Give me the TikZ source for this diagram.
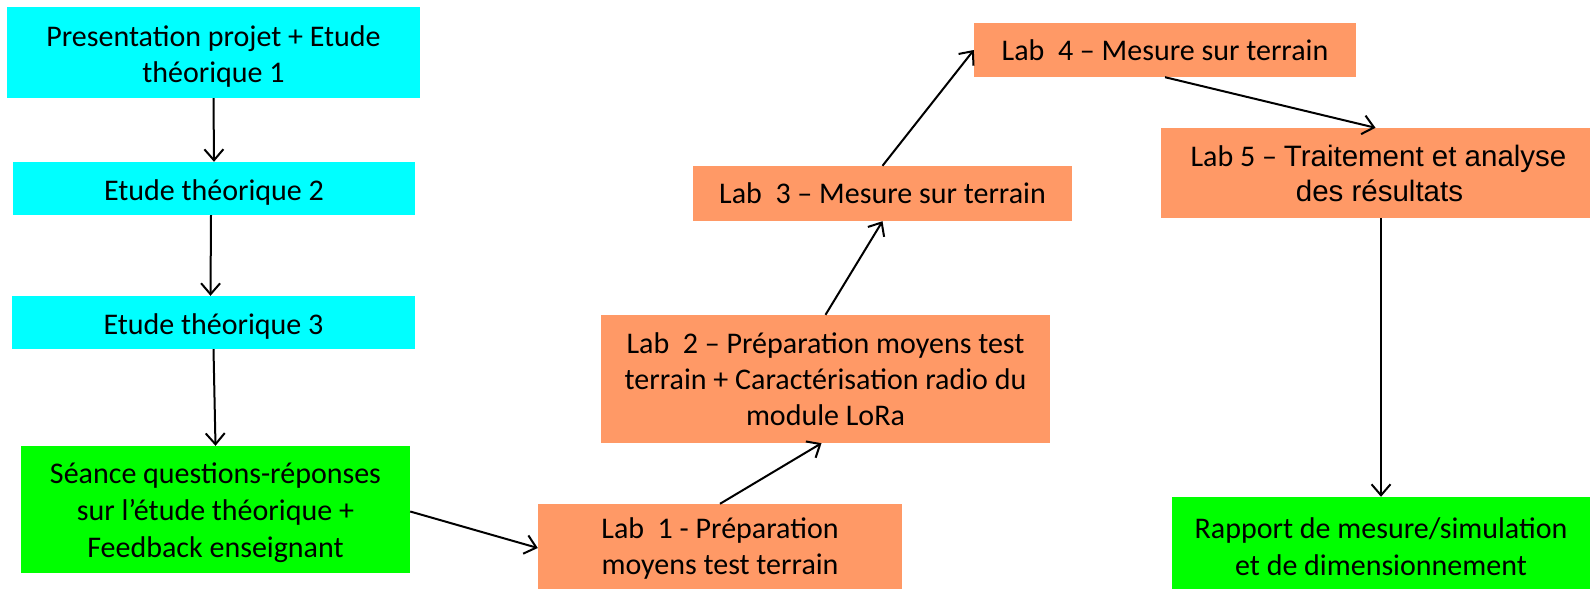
\documentclass[tikz,border=0pt]{standalone}
\usepackage{fontspec}
\setmainfont{Carlito}
\newfontfamily\arialf{Liberation Sans}
\usetikzlibrary{arrows.meta}
\definecolor{boxcyan}{HTML}{00FFFF}
\definecolor{boxgreen}{HTML}{00FF00}
\definecolor{boxorange}{HTML}{FF9966}
\newcommand{\tallstrut}[1]{\rule{0pt}{#1}}
\tikzset{
  box/.style={rectangle, inner sep=0pt, align=center, font=\fontsize{30}{36}\selectfont, text=black},
  cyanbox/.style={box, fill=boxcyan},
  greenbox/.style={box, fill=boxgreen, font=\fontsize{30}{37}\selectfont},
  orangebox/.style={box, fill=boxorange},
  conn/.style={draw=black, line width=2pt, -{Straight Barb[length=11pt,width=19pt,line width=2pt]}},
}
\begin{document}
\begin{tikzpicture}[x=1pt,y=-1pt]
\useasboundingbox (0,0) rectangle (1593,589);
\node[cyanbox, minimum width=413pt, minimum height=91pt] (b1) at (213.5,52.5) {\tallstrut{28pt}Presentation projet + Etude\\théorique 1};
\node[cyanbox, minimum width=402pt, minimum height=53pt] (b2) at (214,188.5) {\tallstrut{29pt}Etude théorique 2};
\node[cyanbox, minimum width=403pt, minimum height=53pt] (b3) at (213.5,322.5) {\tallstrut{29pt}Etude théorique 3};
\node[greenbox, minimum width=389pt, minimum height=127pt] (g1) at (215.5,509.5) {\tallstrut{28pt}Séance questions-réponses\\sur l’étude théorique +\\Feedback enseignant};
\node[orangebox, minimum width=364pt, minimum height=88pt] (l1) at (720,548) {Lab\ \ 1 - Préparation\\moyens test terrain};
\node[orangebox, minimum width=449pt, minimum height=128pt] (l2) at (825.5,379) {Lab\ \ 2 – Préparation moyens test\\terrain + Caractérisation radio du\\module LoRa};
\node[orangebox, minimum width=379pt, minimum height=55pt] (l3) at (882.5,193.5) {Lab\ \ 3 – Mesure sur terrain};
\node[orangebox, minimum width=382pt, minimum height=54pt] (l4) at (1165,50) {Lab\ \ 4 – Mesure sur terrain};
\node[orangebox, minimum width=429pt, minimum height=90pt, font=\fontsize{30}{35}\selectfont] (l5) at (1375.5,173) {\hspace*{6pt}Lab 5 – {\arialf\fontsize{29.5}{35}\selectfont Traitement et analyse}\\\hspace*{8pt}{\arialf\fontsize{29.5}{35}\selectfont des résultats}};
\node[greenbox, minimum width=418pt, minimum height=92pt] (g2) at (1381,543) {\tallstrut{28pt}Rapport de mesure/simulation\\et de dimensionnement};
\draw[conn] (b1.south) -- (b2.north);
\draw[conn] ([xshift=-3pt]b2.south) -- ([xshift=-3pt]b3.north);
\draw[conn] (b3.south) -- (g1.north);
\draw[conn] ([yshift=-2pt]g1.east) -- (l1.west);
\draw[conn] (l1.north) -- ([xshift=-4pt]l2.south);
\draw[conn] (l2.north) -- (l3.south);
\draw[conn] (l3.north) -- (l4.west);
\draw[conn] (l4.south) -- (l5.north);
\draw[conn] (l5.south -| g2.north) -- (g2.north);
\end{tikzpicture}
\end{document}
